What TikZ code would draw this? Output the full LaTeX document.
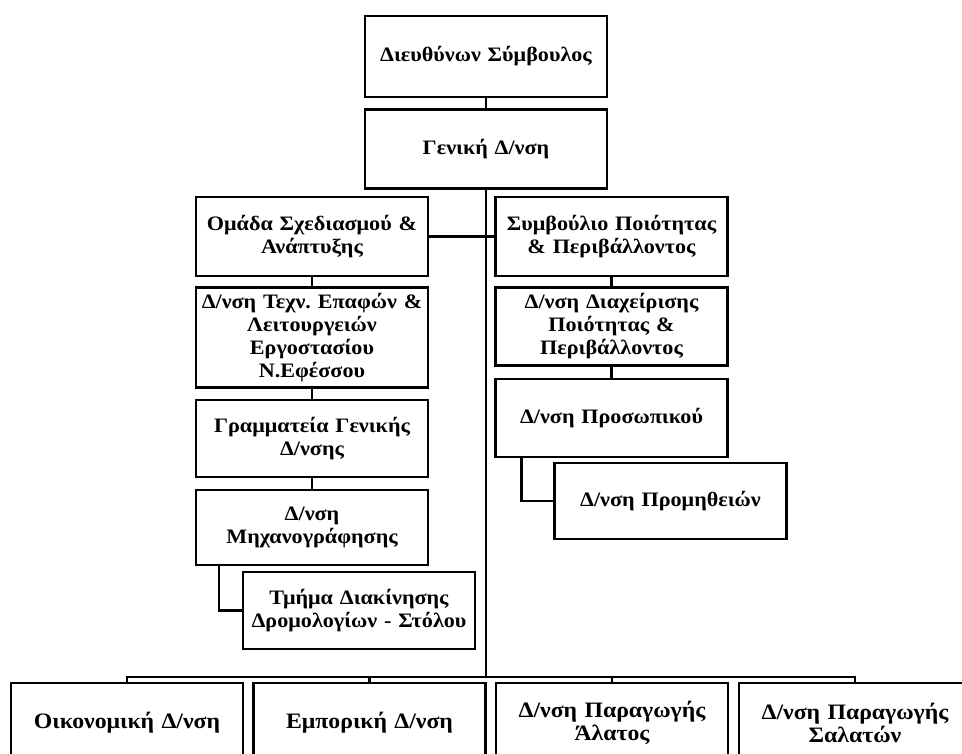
\documentclass[tikz,border=0pt]{standalone}
\usepackage{fontspec}
\setmainfont{Liberation Serif}[FakeStretch=1.08]
\usetikzlibrary{positioning}

\begin{document}
\frenchspacing
\begin{tikzpicture}[
		x=1pt, y=-1pt,
		node distance=10pt,
		unit/.style={draw, line width=2.4pt, minimum width=232pt, text width=232pt, inner sep=0pt, align=center, font=\bfseries\fontsize{20.5}{23}\selectfont},
		dept/.style={unit, minimum height=80pt, font=\bfseries\fontsize{22}{23}\selectfont},
		link/.style={line width=2.4pt},
	]
		\useasboundingbox (0,0) rectangle (962,754);

		\begin{scope}
			\node (ceo) [unit, minimum width=242pt, minimum height=81pt] at (486,56.5) {Διευθύνων Σύμβουλος};
			\node (general) [unit, minimum width=242pt, minimum height=79pt, below=of ceo] {Γενική Δ/νση};
			\coordinate (bus) at (486,677);

			\draw[link] (ceo) -- (general);
			\draw[link] (general) -- (bus);
		\end{scope}

		\begin{scope}
			\node (design) [unit, minimum height=79pt] at (312,236.5) {Ομάδα Σχεδιασμού \&\\Ανάπτυξης};
			\node (tech) [unit, minimum height=100pt, below=9pt of design] {Δ/νση Τεχν. Επαφών \&\\Λειτουργειών\\Εργοστασίου\\Ν.Εφέσσου};
			\node (secr) [unit, minimum height=77pt, below=of tech] {Γραμματεία Γενικής\\Δ/νσης};
			\node (it) [unit, minimum height=75pt, below=11pt of secr] {Δ/νση\\Μηχανογράφησης};
			\node (fleet) [unit, minimum height=77pt] at (359,610.5) {Τμήμα Διακίνησης\\Δρομολογίων - Στόλου};

			\draw[link] (design) -- (tech);
			\draw[link] (tech) -- (secr);
			\draw[link] (secr) -- (it);
			\draw[link] ([xshift=24pt]it.south west) |- (fleet.west);
		\end{scope}

		\begin{scope}
			\node (quality) [unit, minimum height=79pt] at (611.5,236.5) {Συμβούλιο Ποιότητας\\\& Περιβάλλοντος};
			\node (qmgmt) [unit, minimum height=78pt, below=9pt of quality] {Δ/νση Διαχείρισης\\Ποιότητας \&\\Περιβάλλοντος};
			\node (staff) [unit, minimum height=78pt, below=11pt of qmgmt] {Δ/νση Προσωπικού};
			\node (supply) [unit, minimum height=76pt] at (670.5,501) {Δ/νση Προμηθειών};

			\draw[link] (design) -- (quality);
			\draw[link] (quality) -- (qmgmt);
			\draw[link] (qmgmt) -- (staff);
			\draw[link] ([xshift=27pt]staff.south west) |- (supply.west);
		\end{scope}

		\begin{scope}
			\node (finance) [dept] at (127,723) {Οικονομική Δ/νση};
			\node (sales) [dept] at (369.5,723) {Εμπορική Δ/νση};
			\node (salt) [dept] at (612,723) {Δ/νση Παραγωγής\\Άλατος};
			\node (salads) [dept] at (855,723) {Δ/νση Παραγωγής\\Σαλατών};

			\draw[link] (finance.north) |- (bus) -| (salads.north);
			\draw[link] (sales.north) -- (sales.north|-bus);
			\draw[link] (salt.north) -- (salt.north|-bus);
		\end{scope}
	\end{tikzpicture}
\end{document}
